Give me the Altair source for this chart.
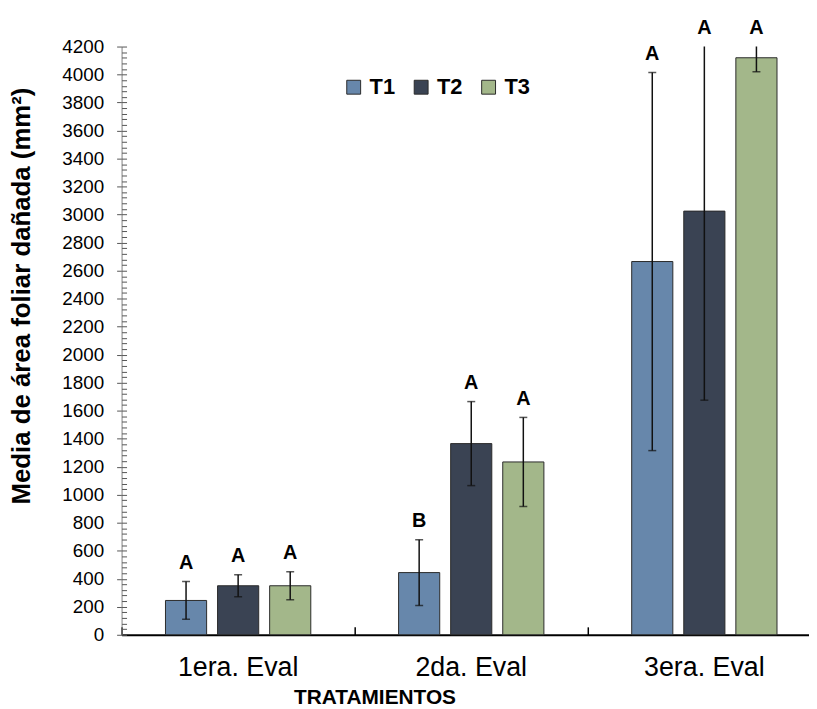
import altair as alt
import pandas as pd

groups = ["1era. Eval", "2da. Eval", "3era. Eval"]
series = ["T1", "T2", "T3"]

mean_t1 = [245, 444, 2665]
mean_t2 = [350, 1365, 3025]
mean_t3 = [350, 1234, 4120]

err_t1 = [135, 235, 1350]
err_t2 = [78, 300, 1350]
err_t3 = [100, 318, 100]

let_t1 = ["A", "B", "A"]
let_t2 = ["A", "A", "A"]
let_t3 = ["A", "A", "A"]

colors = ["#6787ab", "#3a4353", "#a3b78a"]

y_major = list(range(0, 4201, 200))
y_minor = list(range(0, 4201, 40))

rows = []
for s, means, errs, lets in zip(series, [mean_t1, mean_t2, mean_t3],
                                [err_t1, err_t2, err_t3], [let_t1, let_t2, let_t3]):
    for g, m, e, l in zip(groups, means, errs, lets):
        rows.append({"grupo": g, "serie": s, "media": m, "lo": m - e, "hi": m + e, "letra": l})
df = pd.DataFrame(rows)

W, H = 693, 593
font = "Liberation Sans"

x_enc = alt.X("grupo:N", sort=groups,
              scale=alt.Scale(range=[0, 705], paddingInner=0, paddingOuter=0),
              axis=alt.Axis(orient="bottom", ticks=False, domainColor="#000000", domainWidth=2,
                            labelAngle=0, labelFontSize=27, labelColor="#000000", labelPadding=20,
                            title="TRATAMIENTOS", titleFontSize=21, titleFontWeight="bold",
                            titleColor="#000000", titleX=255, titleY=52, titleAnchor="middle",
                            titleAlign="center", titleBaseline="top"))
xo_enc = alt.XOffset("serie:N", sort=series,
                     scale=alt.Scale(paddingInner=0.21, paddingOuter=0.843))
y_scale = alt.Scale(domain=[0, 4200], nice=False, zero=True)

x_plain = alt.X("grupo:N", sort=groups, axis=None)
xo_plain = alt.XOffset("serie:N", sort=series)

base = alt.Chart(df)

bars = base.mark_bar(stroke="#2b2b2b", strokeWidth=1).encode(
    x=x_enc,
    xOffset=xo_enc,
    y=alt.Y("media:Q", scale=y_scale,
            axis=alt.Axis(orient="left", values=y_major, format="d", tickSize=5,
                          tickColor="#555555",
                          domainColor="#808080", domainWidth=1, grid=False,
                          labelFontSize=19, labelColor="#000000", labelPadding=13,
                          title="Media de área foliar dañada (mm²)", titleFontSize=26,
                          titleFontWeight="bold", titleColor="#000000",
                          titleX=-88, titleY=251, titleAngle=-90, titleAlign="center",
                          titleBaseline="bottom")),
    color=alt.Color("serie:N", scale=alt.Scale(domain=series, range=colors),
                    legend=alt.Legend(orient="none", legendX=223, legendY=30,
                                      direction="horizontal", title=None,
                                      symbolType="square", symbolSize=196,
                                      symbolStrokeColor="#2b2b2b", symbolStrokeWidth=1,
                                      labelFontSize=22, labelFontWeight="bold",
                                      labelColor="#000000", labelOffset=5,
                                      columnPadding=15, symbolOpacity=1)),
)

rules = base.mark_rule(clip=True, color="#111111", strokeWidth=1.5).encode(
    x=x_plain,
    xOffset=xo_plain,
    y=alt.Y("lo:Q", axis=None),
    y2="hi:Q",
)
cap_hi = base.mark_tick(clip=True, color="#111111", size=8, thickness=1.5).encode(
    x=x_plain,
    xOffset=xo_plain,
    y=alt.Y("hi:Q", axis=None),
)
cap_lo = base.mark_tick(clip=True, color="#111111", size=8, thickness=1.5).encode(
    x=x_plain,
    xOffset=xo_plain,
    y=alt.Y("lo:Q", axis=None),
)
letters = base.transform_calculate(
    lab_y="min(datum.hi, 4200)"
).mark_text(fontSize=20, fontWeight="bold", baseline="alphabetic", dy=-13,
            color="#000000").encode(
    x=x_plain,
    xOffset=xo_plain,
    y=alt.Y("lab_y:Q", axis=None),
    text="letra:N",
)

inner_axes = base.mark_point(opacity=0).encode(
    x=alt.X("grupo:N", sort=groups,
            axis=alt.Axis(orient="top", offset=-H, bandPosition=0, tickSize=8,
                          tickColor="#000000", tickWidth=1.5, labels=False,
                          domain=False, title=None, grid=False)),
    y=alt.Y("media:Q",
            axis=alt.Axis(orient="right", offset=-W, values=y_minor, tickSize=5,
                          tickColor="#555555", labels=False, domain=False,
                          grid=False, title=None)),
)

chart = alt.layer(bars, rules, cap_hi, cap_lo, letters, inner_axes).resolve_axis(
    x="independent", y="independent"
).properties(
    width=W, height=H,
    autosize=alt.AutoSizeParams(type="none"),
    padding={"left": 114.5, "top": 36, "right": 0, "bottom": 76},
).configure(font=font).configure_view(stroke=None)

chart.save("out.html", embed_options={"renderer": "svg", "actions": False})
